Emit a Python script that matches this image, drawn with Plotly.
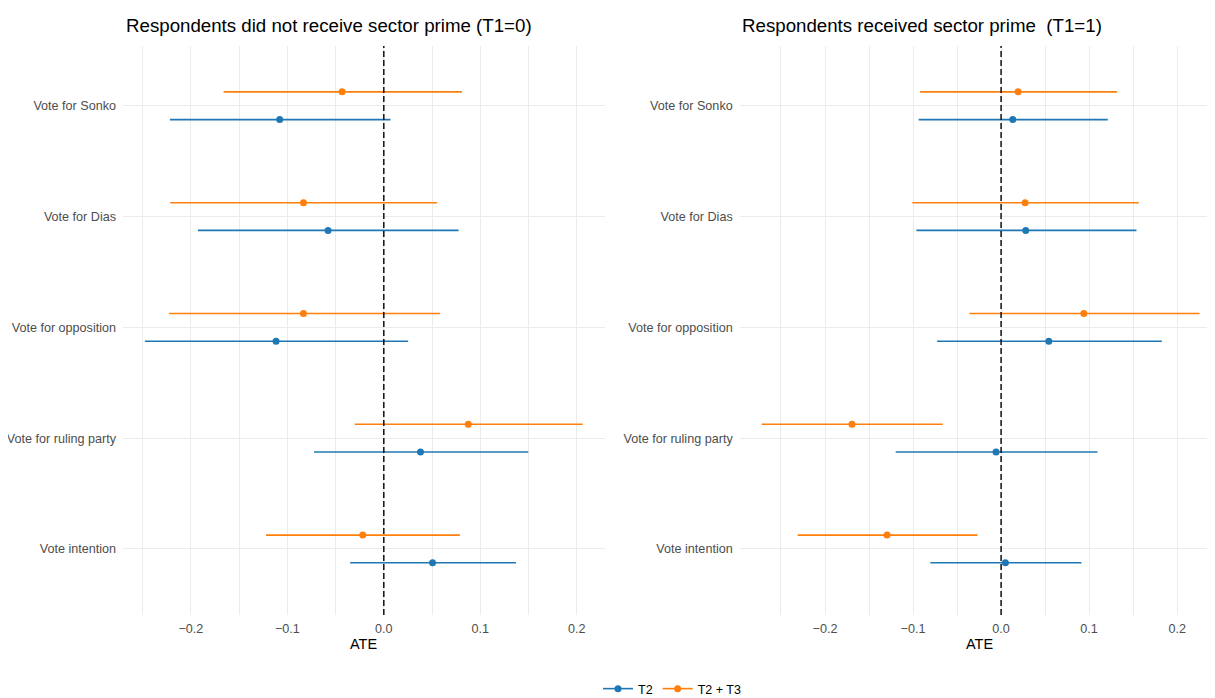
import plotly.graph_objects as go
from plotly.subplots import make_subplots

# ---- data ----
outcomes = ["Vote intention", "Vote for ruling party", "Vote for opposition",
            "Vote for Dias", "Vote for Sonko"]

# Panel 1: respondents did not receive sector prime (T1=0)
t0_T2_est = [0.0505, 0.0380, -0.1117, -0.0578, -0.1079]
t0_T2_lo = [-0.0349, -0.0723, -0.2476, -0.1926, -0.2217]
t0_T2_hi = [0.1369, 0.1497, 0.0252, 0.0775, 0.0069]
t0_T23_est = [-0.0218, 0.0875, -0.0833, -0.0833, -0.0433]
t0_T23_lo = [-0.1221, -0.0301, -0.2227, -0.2213, -0.1660]
t0_T23_hi = [0.0788, 0.2061, 0.0584, 0.0553, 0.0809]

# Panel 2: respondents received sector prime (T1=1)
t1_T2_est = [0.0049, -0.0057, 0.0542, 0.0280, 0.0133]
t1_T2_lo = [-0.0803, -0.1197, -0.0727, -0.0962, -0.0936]
t1_T2_hi = [0.0913, 0.1095, 0.1826, 0.1538, 0.1212]
t1_T23_est = [-0.1295, -0.1693, 0.0940, 0.0273, 0.0193]
t1_T23_lo = [-0.2310, -0.2720, -0.0360, -0.1008, -0.0920]
t1_T23_hi = [-0.0269, -0.0663, 0.2254, 0.1564, 0.1318]

series_names = ["T2", "T2 + T3"]
titles = ["Respondents did not receive sector prime (T1=0)",
          "Respondents received sector prime \u00a0(T1=1)"]
x_tick_vals = [-0.2, -0.1, 0.0, 0.1, 0.2]
x_tick_text = ["\u22120.2", "\u22120.1", "0.0", "0.1", "0.2"]

# ---- styling ----
BLUE = "#1F77B4"
ORANGE = "#FF7F0E"
FONT = "Liberation Sans, Arial, Helvetica, sans-serif"
GRID = "#EBEBEB"
OX, OY = 8, 8            # page body margin offset
W, H = 1215 - OX, 698 - OY
dodge = 0.125


def px(x):
    return (x - OX) / W


def py(y):
    return 1 - (y - OY) / H


panels = [
    [(t0_T2_est, t0_T2_lo, t0_T2_hi, BLUE, -dodge),
     (t0_T23_est, t0_T23_lo, t0_T23_hi, ORANGE, dodge)],
    [(t1_T2_est, t1_T2_lo, t1_T2_hi, BLUE, -dodge),
     (t1_T23_est, t1_T23_lo, t1_T23_hi, ORANGE, dodge)],
]

fig = make_subplots(rows=1, cols=2)
ypos = list(range(1, len(outcomes) + 1))

for c, panel in enumerate(panels, start=1):
    for est, lo, hi, col, off in panel:
        fig.add_trace(go.Scatter(
            x=est, y=[p + off for p in ypos], mode="markers",
            marker=dict(color=col, size=7),
            error_x=dict(type="data", symmetric=False,
                         array=[h - e for h, e in zip(hi, est)],
                         arrayminus=[e - l for e, l in zip(est, lo)],
                         color=col, thickness=1.6, width=0),
            showlegend=False, hoverinfo="skip"), row=1, col=c)

# legend keys
for name, col in zip(series_names, [BLUE, ORANGE]):
    fig.add_trace(go.Scatter(x=[None], y=[None], mode="lines+markers", name=name,
                             line=dict(color=col, width=1.6),
                             marker=dict(color=col, size=7)), row=1, col=1)

x_domains = [[px(123), px(604.6)], [px(739.7), 1.0]]
x_ranges = [[-0.2703, 0.2288], [-0.2969, 0.243]]
y_domain = [py(615), py(46)]
y_range = [0.404, 5.539]

for i in range(2):
    xa = "xaxis" if i == 0 else "xaxis2"
    ya = "yaxis" if i == 0 else "yaxis2"
    fig.layout[xa].update(
        domain=x_domains[i], range=x_ranges[i], tickvals=x_tick_vals,
        ticktext=x_tick_text, showgrid=True, gridcolor=GRID, gridwidth=1,
        zeroline=False, showline=False, ticks="", automargin=False,
        minor=dict(dtick=0.05, tick0=0, showgrid=True, gridcolor=GRID, gridwidth=1),
        tickfont=dict(family=FONT, size=12.6, color="#4D4D4D"),
        ticklabelstandoff=4)
    fig.layout[ya].update(
        domain=y_domain, range=y_range, tickvals=ypos, ticktext=outcomes,
        showgrid=True, gridcolor=GRID, gridwidth=1.2, zeroline=False,
        showline=False, ticks="", automargin=False,
        tickfont=dict(family=FONT, size=12.6, color="#4D4D4D"),
        ticklabelstandoff=6)
    xref = "x" if i == 0 else "x2"
    yref = "y domain" if i == 0 else "y2 domain"
    fig.add_shape(type="line", x0=0, x1=0, y0=0, y1=1, xref=xref, yref=yref,
                  line=dict(color="black", width=1.4, dash="6px,3px"))

annotations = [
    dict(text=titles[0], x=px(123.7), y=py(26), xref="paper", yref="paper",
         xanchor="left", yanchor="middle", showarrow=False,
         font=dict(family=FONT, size=18.7, color="black")),
    dict(text=titles[1], x=px(739.7), y=py(26), xref="paper", yref="paper",
         xanchor="left", yanchor="middle", showarrow=False,
         font=dict(family=FONT, size=18.7, color="black")),
    dict(text="ATE", x=px(363.8), y=py(644), xref="paper", yref="paper",
         xanchor="center", yanchor="middle", showarrow=False,
         font=dict(family=FONT, size=14.5, color="black")),
    dict(text="ATE", x=px(979.5), y=py(644), xref="paper", yref="paper",
         xanchor="center", yanchor="middle", showarrow=False,
         font=dict(family=FONT, size=14.5, color="black")),
]

fig.update_layout(
    width=W, height=H,
    margin=dict(l=0, r=0, t=0, b=0, autoexpand=False),
    paper_bgcolor="white", plot_bgcolor="white",
    annotations=annotations,
    legend=dict(orientation="h", x=px(672), xanchor="center",
                y=py(689), yanchor="middle",
                font=dict(family=FONT, size=12.5, color="black"),
                itemwidth=30, tracegroupgap=0),
    font=dict(family=FONT),
)

fig.write_html("out.html")
